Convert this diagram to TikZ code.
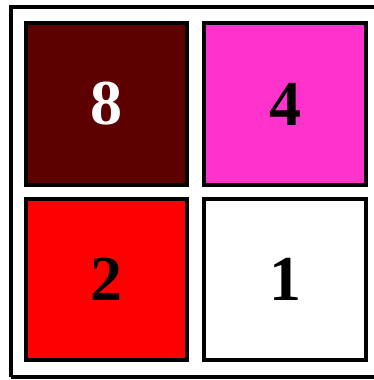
\documentclass[tikz,border=0pt]{standalone}
\usepackage{fontspec}
\setmainfont{Liberation Serif}
\usetikzlibrary{positioning}

\definecolor{darkmaroon}{HTML}{5C0000}
\definecolor{hotpink}{HTML}{FF33CC}
\definecolor{purered}{HTML}{FF0000}

\tikzset{
  cell/.style={draw=black,line width=4pt,minimum size=161.5pt,inner sep=0pt,
    font=\fontsize{64}{64}\selectfont\bfseries},
}

\begin{document}
\begin{tikzpicture}[x=1pt,y=-1pt]
  % 画像全体の範囲
  \useasboundingbox (0,0) rectangle (374,380);
  % 外枠（右端は画像の外まで）
  \draw[line width=4pt] (11,377) -- (11,7) -- (380,7);
  \draw[line width=4pt] (11,377) -- (380,377);
  % 2x2 のマス
  \node[cell,fill=darkmaroon,text=white] (c8) at (106.5,104) {8};
  \node[cell,fill=hotpink,right=13pt of c8] (c4) {4};
  \node[cell,fill=purered,below=10pt of c8] (c2) {2};
  \node[cell,fill=white,right=13pt of c2] (c1) {1};
\end{tikzpicture}
\end{document}
